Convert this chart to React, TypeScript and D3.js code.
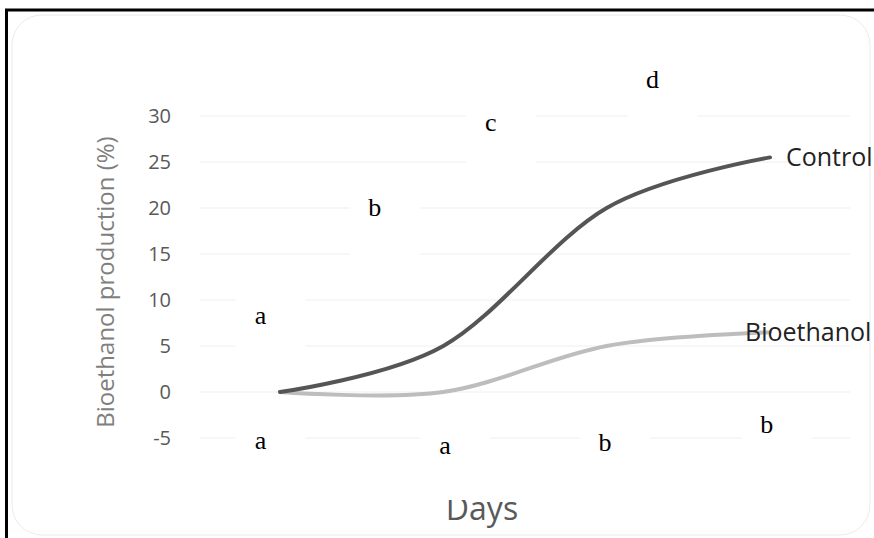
import React from "react";
import { scaleLinear, line, curveCardinal } from "d3";

// days (index along the x axis)
const days = [0, 1, 2, 3];
const control = [0, 5, 20, 25.5];
const bioethanol = [0, 0, 5, 6.5];
const yTicks = [-5, 0, 5, 10, 15, 20, 25, 30];

// significance letters, placed in data units (day, %)
const topLetters = ["a", "b", "c", "d"];
const topLetterX = [-0.12, 0.58, 1.29, 2.28];
const topLetterY = [8.3, 20.1, 29.3, 34.0];
const bottomLetters = ["a", "a", "b", "b"];
const bottomLetterX = [-0.12, 1.01, 1.99, 2.98];
const bottomLetterY = [-5.3, -5.8, -5.5, -3.5];

const W = 874;
const H = 538;
const sans = "'Open Sans', sans-serif";

const App = () => {
      const x = scaleLinear().domain([0, 3]).range([280, 770]);
      const y = scaleLinear().domain([-5, 30]).range([438, 116]);

      const path = line<number>()
            .x((d, i) => x(days[i]))
            .y((d) => y(d))
            .curve(curveCardinal);

      const letter = (t: string, dx: number, dy: number, key: string) => {
            const cx = x(dx);
            const cy = y(dy);
            return (
                  <g key={key}>
                        {/* white text box, hides the gridlines behind it */}
                        <rect x={cx - 25} y={cy - 22} width={70} height={70} fill="#fff" />
                        <text x={cx} y={cy} dy="0.33em" textAnchor="middle"
                              fontFamily="'Liberation Serif', 'Times New Roman', serif" fontSize={26} fill="#000">
                              {t}
                        </text>
                  </g>
            );
      };

      const last = days.length - 1;

      return (
            <svg width={W} height={H} style={{ position: "absolute", left: 0, top: 0, background: "#fff" }}>
                  <rect x={12} y={15} width={858} height={520} rx={30} fill="#fff" stroke="#ebebeb" />

                  {/* gridlines */}
                  {yTicks.map((t) => (
                        <line key={t} x1={200} x2={850} y1={y(t)} y2={y(t)} stroke="#efefef" strokeWidth={1} />
                  ))}

                  {/* tick labels */}
                  {yTicks.map((t) => (
                        <text key={"l" + t} x={171} y={y(t)} dy="0.35em" textAnchor="end"
                              fontFamily={sans} fontSize={20} fill="#595959">
                              {t}
                        </text>
                  ))}

                  <text transform={`translate(114,282) rotate(-90)`} textAnchor="middle"
                        fontFamily={sans} fontSize={24} fill="#7f7f7f">
                        Bioethanol production (%)
                  </text>

                  {/* letters */}
                  {topLetters.map((t, i) => letter(t, topLetterX[i], topLetterY[i], "t" + i))}
                  {bottomLetters.map((t, i) => letter(t, bottomLetterX[i], bottomLetterY[i], "b" + i))}

                  {/* series */}
                  <path d={path(bioethanol) || ""} fill="none" stroke="#bdbdbd" strokeWidth={4} strokeLinecap="round" />
                  <path d={path(control) || ""} fill="none" stroke="#555" strokeWidth={4} strokeLinecap="round" />

                  <text x={x(days[last]) + 16} y={y(control[last])} dy="0.35em"
                        fontFamily={sans} fontSize={25} fill="#222">
                        Control
                  </text>
                  <text x={x(days[last]) - 25} y={y(bioethanol[last])} dy="0.35em"
                        fontFamily={sans} fontSize={25} fill="#222">
                        Bioethanol
                  </text>

                  <text x={482} y={520} textAnchor="middle" fontFamily={sans} fontSize={32} fill="#595959">
                        Days
                  </text>
                  <rect x={430} y={488} width={40} height={12} fill="#fff" />

                  {/* outer black frame (top and left) */}
                  <line x1={5} x2={W} y1={10} y2={10} stroke="#000" strokeWidth={3} />
                  <line x1={6.5} x2={6.5} y1={9} y2={H} stroke="#000" strokeWidth={3} />
            </svg>
      );
};

export default App;
